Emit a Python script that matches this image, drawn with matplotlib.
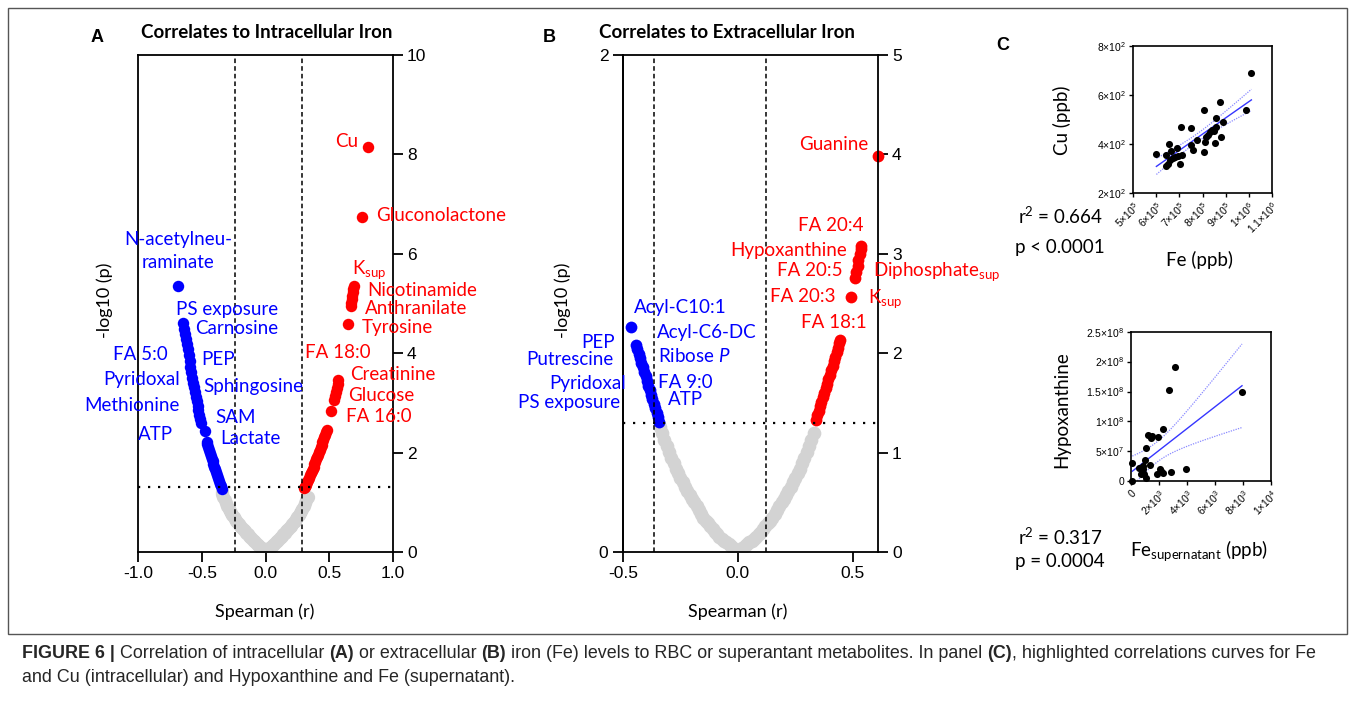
import numpy as np
import matplotlib.pyplot as plt
from matplotlib.patches import Rectangle

plt.rcParams['font.family'] = ['Lato', 'DejaVu Sans']
plt.rcParams['axes.unicode_minus'] = False
plt.rcParams['mathtext.fontset'] = 'custom'
plt.rcParams['mathtext.rm'] = 'Lato'
plt.rcParams['mathtext.it'] = 'Lato:italic'
plt.rcParams['mathtext.bf'] = 'Lato:bold'

# ---- panel A: intracellular iron (spearman r, -log10 p)
a_grey_r = [-0.345, -0.34, -0.33, -0.32, -0.31, -0.3, -0.29, -0.28, -0.27, -0.26, -0.25, -0.24,
            -0.23, -0.22, -0.21, -0.2, -0.19, -0.18, -0.17, -0.16, -0.15, -0.14, -0.13, -0.12,
            -0.11, -0.1, -0.09, -0.08, -0.07, -0.06, -0.05, -0.04, -0.03, -0.02, -0.01, 0.0,
            0.01, 0.02, 0.03, 0.04, 0.05, 0.06, 0.07, 0.08, 0.09, 0.1, 0.11, 0.12, 0.13, 0.14,
            0.15, 0.16, 0.17, 0.18, 0.19, 0.2, 0.21, 0.22, 0.23, 0.24, 0.25, 0.26, 0.27, 0.28,
            0.29, 0.3, 0.31, 0.32, 0.33]
a_grey_p = [1.21, 1.17, 1.1, 1.04, 0.98, 0.92, 0.87, 0.82, 0.78, 0.74, 0.7, 0.67,
            0.63, 0.6, 0.56, 0.53, 0.5, 0.47, 0.45, 0.42, 0.39, 0.36, 0.33, 0.3,
            0.28, 0.25, 0.22, 0.2, 0.17, 0.15, 0.12, 0.1, 0.08, 0.05, 0.02, 0.0,
            0.02, 0.05, 0.08, 0.1, 0.12, 0.15, 0.17, 0.2, 0.22, 0.25, 0.28, 0.3, 0.33, 0.36,
            0.39, 0.42, 0.45, 0.47, 0.5, 0.53, 0.56, 0.6, 0.63, 0.67, 0.7, 0.74, 0.78, 0.82,
            0.87, 0.92, 0.98, 1.04, 1.1]
a_blue_r = [-0.345, -0.352, -0.359, -0.366, -0.373, -0.38, -0.387, -0.394, -0.401, -0.408,
            -0.415, -0.422, -0.429, -0.436, -0.443, -0.45, -0.457, -0.462, -0.475,
            -0.505, -0.512, -0.519, -0.526, -0.533, -0.54, -0.547, -0.554, -0.561, -0.568,
            -0.575, -0.582, -0.589, -0.596, -0.603, -0.61, -0.617, -0.624, -0.631, -0.638,
            -0.645, -0.69]
a_blue_p = [1.27, 1.32, 1.37, 1.43, 1.49, 1.54, 1.6, 1.66, 1.71, 1.77,
            1.83, 1.88, 1.94, 2.0, 2.05, 2.11, 2.17, 2.21, 2.43,
            2.6, 2.68, 2.76, 2.85, 2.94, 3.03, 3.12, 3.21, 3.31, 3.41,
            3.51, 3.62, 3.73, 3.85, 3.97, 4.08, 4.19, 4.29, 4.39, 4.49,
            4.6, 5.35]
a_red_r = [0.3, 0.307, 0.314, 0.321, 0.328, 0.335, 0.342, 0.349, 0.356, 0.363, 0.37, 0.377,
           0.384, 0.391, 0.398, 0.405, 0.412, 0.419, 0.426, 0.433, 0.44, 0.447, 0.454, 0.461,
           0.468, 0.475, 0.48, 0.514, 0.538, 0.546, 0.553, 0.56, 0.566, 0.571, 0.65,
           0.668, 0.672, 0.676, 0.68, 0.685, 0.69, 0.695, 0.76, 0.806]
a_red_p = [1.28, 1.31, 1.34, 1.37, 1.41, 1.45, 1.49, 1.54, 1.58, 1.62, 1.67, 1.72,
           1.77, 1.82, 1.87, 1.92, 1.96, 2.01, 2.06, 2.11, 2.16, 2.21, 2.26, 2.31,
           2.36, 2.41, 2.45, 2.83, 3.06, 3.14, 3.22, 3.3, 3.39, 3.47, 4.59,
           4.95, 5.02, 5.09, 5.16, 5.23, 5.3, 5.36, 6.75, 8.14]

# ---- panel B: extracellular iron
b_grey_r = [-0.34, -0.33, -0.32, -0.31, -0.3, -0.29, -0.28, -0.27, -0.26, -0.25, -0.24, -0.23,
            -0.22, -0.21, -0.2, -0.19, -0.18, -0.17, -0.16, -0.15, -0.14, -0.13, -0.12, -0.11,
            -0.1, -0.09, -0.08, -0.07, -0.06, -0.05, -0.04, -0.03, -0.02, -0.01, 0.0,
            0.01, 0.02, 0.03, 0.04, 0.05, 0.06, 0.07, 0.08, 0.09, 0.1, 0.11, 0.12, 0.13, 0.14,
            0.15, 0.16, 0.17, 0.18, 0.19, 0.2, 0.21, 0.22, 0.23, 0.24, 0.25, 0.26, 0.27, 0.28,
            0.29, 0.3, 0.31, 0.32, 0.33]
b_grey_p = [1.26, 1.2, 1.13, 1.07, 1.01, 0.95, 0.9, 0.84, 0.79, 0.74, 0.7, 0.65,
            0.61, 0.57, 0.53, 0.5, 0.46, 0.42, 0.38, 0.34, 0.31, 0.29, 0.26, 0.23,
            0.2, 0.18, 0.15, 0.13, 0.11, 0.1, 0.08, 0.06, 0.04, 0.02, 0.0,
            0.02, 0.04, 0.06, 0.08, 0.1, 0.11, 0.13, 0.15, 0.18, 0.2, 0.23, 0.26, 0.29, 0.31,
            0.34, 0.38, 0.42, 0.46, 0.5, 0.53, 0.57, 0.61, 0.65, 0.7, 0.74, 0.79, 0.84, 0.9,
            0.95, 1.01, 1.07, 1.13, 1.2]
b_blue_r = [-0.342, -0.348, -0.354, -0.36, -0.366, -0.372, -0.378, -0.384, -0.39, -0.396,
            -0.402, -0.408, -0.414, -0.42, -0.426, -0.432, -0.438, -0.444, -0.464]
b_blue_p = [1.31, 1.36, 1.4, 1.45, 1.49, 1.54, 1.58, 1.63, 1.67, 1.72,
            1.77, 1.81, 1.86, 1.9, 1.95, 1.99, 2.04, 2.08, 2.26]
b_red_r = [0.34, 0.346, 0.352, 0.358, 0.364, 0.37, 0.376, 0.382, 0.388, 0.394, 0.4, 0.406,
           0.412, 0.418, 0.424, 0.43, 0.436, 0.442, 0.446, 0.492, 0.511, 0.516, 0.521, 0.525,
           0.53, 0.534, 0.537, 0.61]
b_red_p = [1.33, 1.38, 1.42, 1.47, 1.51, 1.56, 1.6, 1.65, 1.69, 1.74, 1.78, 1.83,
           1.87, 1.92, 1.96, 2.01, 2.05, 2.1, 2.13, 2.57, 2.76, 2.82, 2.88, 2.94,
           3.0, 3.05, 3.08, 3.98]

# ---- panel C: Fe vs Cu (ppb)
fe_cu = [6.01e5, 6.41e5, 6.55e5, 6.64e5, 6.9e5, 7.09e5, 7.49e5, 7.01e5, 6.44e5, 6.5e5, 6.61e5,
         6.73e5, 6.83e5, 6.94e5, 7.12e5, 7.5e5, 7.59e5, 7.76e5, 8.05e5, 8.08e5, 8.11e5, 8.17e5,
         8.22e5, 8.31e5, 8.41e5, 8.48e5, 8.58e5, 8.55e5, 8.58e5, 8.77e5, 8.8e5, 8.88e5, 9.88e5,
         1.011e6]
cu = [358, 356, 402, 373, 384, 471, 464, 319, 311, 318, 335, 342, 346, 349, 356, 396, 376, 417,
      539, 369, 410, 430, 437, 451, 457, 453, 471, 403, 505, 572, 430, 488, 539, 688]

# ---- panel C: Fe supernatant vs hypoxanthine
fe_sup = [95, 95, 595, 690, 762, 833, 881, 952, 1000, 1048, 1071, 1238, 1357, 1429, 1524, 1881,
          1952, 2071, 2143, 2262, 2286, 2738, 2857, 3143, 3905, 7929]
hypox = [0.0, 3.0e7, 2.2e7, 1.2e7, 1.6e7, 2.0e7, 2.5e7, 1.1e7, 3.6e7, 5.0e6, 5.6e7, 7.8e7, 2.7e7,
         7.2e7, 7.5e7, 1.1e7, 7.4e7, 2.0e7, 1.6e7, 8.8e7, 1.3e7, 1.53e8, 1.57e7, 1.92e8, 2.0e7,
         1.5e8]

W, H = 1355, 710
fig = plt.figure(figsize=(W / 100, H / 100), dpi=100)


def box(l, t, r, b):
    return [l / W, 1 - b / H, (r - l) / W, (b - t) / H]


def fx(px):
    return px / W


def fy(py):
    return 1 - py / H


GREY, BLUE, RED = '#d3d3d3', '#0000ff', '#ff0000'
TICKFONT = 'Liberation Sans'


def volcano(ax, grey, blue, red, size):
    ax.scatter(*grey, s=size * 1.35, c=GREY, lw=0, zorder=2)
    ax.scatter(*blue, s=size, c=BLUE, lw=0, zorder=2, clip_on=False)
    ax.scatter(*red, s=size, c=RED, lw=0, zorder=2, clip_on=False)
    for sp in ax.spines.values():
        sp.set_linewidth(1.3)
    ax.tick_params(axis='both', direction='out', length=7, width=1.3, labelsize=12.5,
                   labelfontfamily=TICKFONT, pad=3)
    ax.yaxis.tick_right()


# ================= panel A
axA = fig.add_axes(box(138, 55, 393, 552))
volcano(axA, (a_grey_r, a_grey_p), (a_blue_r, a_blue_p), (a_red_r, a_red_p), 68)
axA.set_xlim(-1, 1)
axA.set_ylim(0, 10)
axA.set_xticks([-1, -0.5, 0, 0.5, 1])
axA.set_xticklabels(['-1.0', '-0.5', '0.0', '0.5', '1.0'])
axA.set_yticks([0, 2, 4, 6, 8, 10])
for xv in (-0.24, 0.285):
    axA.axvline(xv, color='k', ls=(0, (3, 2)), lw=1.1, zorder=3)
axA.axhline(1.3, color='k', ls=(0, (1, 3.5)), lw=1.6, zorder=3)

lab = dict(fontsize=13.5, va='center')
for txt, x, y, ha in [('Cu', 0.725, 8.25, 'right'), ('Gluconolactone', 0.867, 6.77, 'left'),
                      (r'K$_\mathregular{sup}$', 0.678, 5.68, 'left'),
                      ('Nicotinamide', 0.796, 5.26, 'left'), ('Anthranilate', 0.78, 4.9, 'left'),
                      ('Tyrosine', 0.757, 4.52, 'left'), ('FA 18:0', 0.569, 4.01, 'center'),
                      ('Creatinine', 0.663, 3.57, 'left'), ('Glucose', 0.647, 3.15, 'left'),
                      ('FA 16:0', 0.631, 2.72, 'left')]:
    axA.text(x, y, txt, color=RED, ha=ha, zorder=5, **lab)
for txt, x, y, ha in [('N-acetylneu-', -0.686, 6.29, 'center'), ('raminate', -0.686, 5.83, 'center'),
                      ('PS exposure', -0.702, 4.88, 'left'), ('Carnosine', -0.553, 4.5, 'left'),
                      ('FA 5:0', -0.765, 3.97, 'right'), ('PEP', -0.506, 3.87, 'left'),
                      ('Pyridoxal', -0.67, 3.47, 'right'), ('Sphingosine', -0.49, 3.33, 'left'),
                      ('Methionine', -0.67, 2.94, 'right'), ('SAM', -0.396, 2.7, 'left'),
                      ('ATP', -0.725, 2.36, 'right'), ('Lactate', -0.357, 2.28, 'left')]:
    axA.text(x, y, txt, color=BLUE, ha=ha, zorder=5, **lab)

# ================= panel B
axB = fig.add_axes(box(623, 55, 878, 552))
volcano(axB, (b_grey_r, b_grey_p), (b_blue_r, b_blue_p), (b_red_r, b_red_p), 72)
axB.set_xlim(-0.5, 0.61)
axB.set_ylim(0, 5)
axB.set_xticks([-0.5, 0, 0.5])
axB.set_xticklabels(['-0.5', '0.0', '0.5'])
axB.set_yticks([0, 1, 2, 3, 4, 5])
secB = axB.secondary_yaxis('left', functions=(lambda y: y * 0.4, lambda y: y / 0.4))
secB.set_yticks([0, 2])
secB.spines['left'].set_linewidth(1.3)
secB.tick_params(direction='out', length=7, width=1.3, labelsize=12.5, labelfontfamily=TICKFONT)
for xv in (-0.367, 0.122):
    axB.axvline(xv, color='k', ls=(0, (3, 2)), lw=1.1, zorder=3)
axB.axhline(1.3, color='k', ls=(0, (1, 3.5)), lw=1.6, zorder=3)

for txt, x, y, ha in [('Guanine', 0.568, 4.1, 'right'), ('FA 20:4', 0.546, 3.28, 'right'),
                      ('Hypoxanthine', 0.476, 3.03, 'right'), ('FA 20:5', 0.454, 2.83, 'right'),
                      (r'Diphosphate$_\mathregular{sup}$', 0.59, 2.82, 'left'),
                      (r'K$_\mathregular{sup}$', 0.568, 2.55, 'left'),
                      ('FA 20:3', 0.424, 2.57, 'right'), ('FA 18:1', 0.563, 2.31, 'right')]:
    axB.text(x, y, txt, color=RED, ha=ha, zorder=5, **lab)
for txt, x, y, ha in [('Acyl-C10:1', -0.454, 2.46, 'left'), ('Acyl-C6-DC', -0.354, 2.21, 'left'),
                      ('PEP', -0.537, 2.11, 'right'), (r'Ribose $\mathit{P}$', -0.349, 1.97, 'left'),
                      ('Putrescine', -0.541, 1.94, 'right'), ('FA 9:0', -0.349, 1.71, 'left'),
                      ('Pyridoxal', -0.489, 1.7, 'right'), ('ATP', -0.306, 1.53, 'left'),
                      ('PS exposure', -0.511, 1.5, 'right')]:
    axB.text(x, y, txt, color=BLUE, ha=ha, zorder=5, **lab)

# titles, axis labels, panel letters
for cx in (265, 738):
    fig.text(fx(cx), fy(612), 'Spearman (r)', fontsize=13, ha='center', va='center')
for cx in (105, 563):
    fig.text(fx(cx), fy(300), '-log10 (p)', fontsize=13, ha='center', va='center', rotation=90)
fig.text(fx(267), fy(33), 'Correlates to Intracellular Iron', fontsize=13.5, fontweight='bold',
         ha='center', va='center')
fig.text(fx(727), fy(33), 'Correlates to Extracellular Iron', fontsize=13.5, fontweight='bold',
         ha='center', va='center')
for letter, px, py in [('A', 97, 38), ('B', 549, 38), ('C', 1003, 45)]:
    fig.text(fx(px), fy(py), letter, fontsize=13, fontweight='bold', ha='center', va='center',
             family='Liberation Sans')


# ================= panel C
def fit_ci(x, y, n=100, t=2.04):
    x, y = np.asarray(x, float), np.asarray(y, float)
    b1, b0 = np.polyfit(x, y, 1)
    xs = np.linspace(x.min(), x.max(), n)
    res = y - (b0 + b1 * x)
    s = np.sqrt(np.sum(res ** 2) / (len(x) - 2))
    se = s * np.sqrt(1 / len(x) + (xs - x.mean()) ** 2 / np.sum((x - x.mean()) ** 2))
    yh = b0 + b1 * xs
    return xs, yh, yh - t * se, yh + t * se


def corr_panel(ax, x, y, xlim, ylim, xt, xtl, yt, ytl):
    xs, yh, lo, hi = fit_ci(x, y)
    ax.plot(xs, yh, color='#3535ff', lw=1, zorder=2)
    ax.plot(xs, lo, color='#8a8aff', lw=0.9, ls=(0, (1, 1)), zorder=2)
    ax.plot(xs, hi, color='#8a8aff', lw=0.9, ls=(0, (1, 1)), zorder=2)
    ax.scatter(x, y, s=26, c='k', lw=0, zorder=3, clip_on=False)
    ax.set_xlim(*xlim)
    ax.set_ylim(*ylim)
    ax.set_xticks(xt)
    ax.set_xticklabels(xtl, rotation=45, ha='right', rotation_mode='anchor')
    ax.set_yticks(yt)
    ax.set_yticklabels(ytl)
    for sp in ax.spines.values():
        sp.set_linewidth(1.2)
    ax.tick_params(direction='out', length=3, width=1, labelsize=7.5, labelfontfamily=TICKFONT,
                   pad=2)


def sci(m, e):
    return m + '\u00d710$^{\\mathregular{' + e + '}}$'


axC1 = fig.add_axes(box(1133, 46, 1272, 193))
corr_panel(axC1, fe_cu, cu, (5e5, 1.1e6), (200, 800),
           [5e5, 6e5, 7e5, 8e5, 9e5, 1e6, 1.1e6],
           [sci('5', '5'), sci('6', '5'), sci('7', '5'), sci('8', '5'), sci('9', '5'),
            sci('1', '6'), sci('1.1', '6')],
           [200, 400, 600, 800], [sci('2', '2'), sci('4', '2'), sci('6', '2'), sci('8', '2')])

axC2 = fig.add_axes(box(1131, 332, 1271, 481))
corr_panel(axC2, fe_sup, hypox, (0, 1e4), (0, 2.5e8),
           [0, 2e3, 4e3, 6e3, 8e3, 1e4],
           ['0', sci('2', '3'), sci('4', '3'), sci('6', '3'), sci('8', '3'), sci('1', '4')],
           [0, 5e7, 1e8, 1.5e8, 2e8, 2.5e8],
           ['0', sci('5', '7'), sci('1', '8'), sci('1.5', '8'), sci('2', '8'), sci('2.5', '8')])

cl = dict(fontsize=13.5, va='center')
fig.text(fx(1062), fy(120), 'Cu (ppb)', rotation=90, ha='center', **cl)
fig.text(fx(1200), fy(260), 'Fe (ppb)', ha='center', **cl)
fig.text(fx(1103), fy(216), r'r$^\mathregular{2}$ = 0.664', ha='right', **cl)
fig.text(fx(1105), fy(248), 'p < 0.0001', ha='right', **cl)
fig.text(fx(1062), fy(410), 'Hypoxanthine', rotation=90, ha='center', **cl)
fig.text(fx(1199), fy(551), r'Fe$_\mathregular{supernatant}$ (ppb)', ha='center', **cl)
fig.text(fx(1103), fy(537), r'r$^\mathregular{2}$ = 0.317', ha='right', **cl)
fig.text(fx(1105), fy(562), 'p = 0.0004', ha='right', **cl)

# frame around the figure
fig.add_artist(Rectangle((fx(8), fy(634)), (1347 - 8) / W, (634 - 8) / H,
                         transform=fig.transFigure, fill=False, ec='#555555', lw=1))

# caption with bold runs
renderer = fig.canvas.get_renderer()


def runs(px, py, parts, size):
    x = fx(px)
    for s, w in parts:
        t = fig.text(x, fy(py), s, fontsize=size, fontweight=w, va='center', ha='left',
                     family='Liberation Sans', color='#262626')
        bb = t.get_window_extent(renderer)
        x = bb.x1 / W


runs(22, 653, [('FIGURE 6 |', 'bold'), (' Correlation of intracellular ', 'normal'),
               ('(A)', 'bold'), (' or extracellular ', 'normal'), ('(B)', 'bold'),
               (' iron (Fe) levels to RBC or superantant metabolites. In panel ', 'normal'),
               ('(C)', 'bold'), (', highlighted correlations curves for Fe', 'normal')], 12.9)
runs(22, 678, [('and Cu (intracellular) and Hypoxanthine and Fe (supernatant).', 'normal')], 12.9)

fig.savefig('out.png', dpi=100)
